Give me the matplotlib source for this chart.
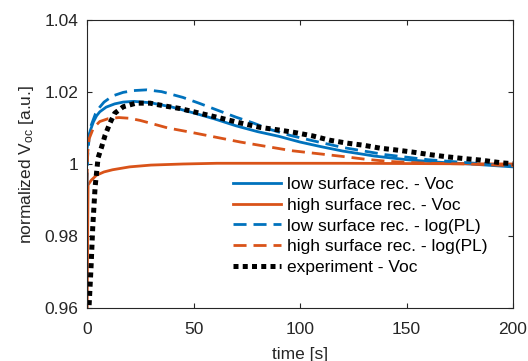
import numpy as np
import matplotlib
matplotlib.use("Agg")
import matplotlib.pyplot as plt
from matplotlib.ticker import FuncFormatter

plt.rcParams["font.family"] = ["Liberation Sans", "DejaVu Sans"]
plt.rcParams["mathtext.fontset"] = "custom"
plt.rcParams["mathtext.rm"] = "Liberation Sans"
plt.rcParams["mathtext.it"] = "Liberation Sans:italic"

# low surface recombination - Voc (simulation)
t_low_voc = [0, 0.5, 1.5, 3, 4.5, 6, 9, 13, 17, 22, 30, 40, 50, 60, 70, 80, 90, 100, 110, 120, 135, 150, 165, 180, 200]
v_low_voc = [1.004, 1.0068, 1.0092, 1.0117, 1.0134, 1.0145, 1.0158, 1.0167, 1.0172, 1.0174, 1.0170, 1.0158,
             1.0142, 1.0125, 1.0106, 1.0090, 1.0077, 1.0061, 1.0048, 1.0036, 1.0022, 1.0012, 1.0005, 1.0, 0.9992]

# high surface recombination - Voc (simulation)
t_high_voc = [0, 0.5, 2, 4.5, 8, 12, 20, 30, 45, 61, 80, 120, 160, 200]
v_high_voc = [0.955, 0.9942, 0.9955, 0.9969, 0.9978, 0.9984, 0.9992, 0.9997, 1.0, 1.0002, 1.0002, 1.0002, 1.0001, 1.0]

# low surface recombination - log(PL)
t_low_pl = [0, 0.3, 1, 2, 4, 6, 8, 12, 17, 22, 28, 35, 45, 53, 61, 70, 78, 86, 95, 105, 120, 140, 160, 180, 200]
v_low_pl = [0.994, 1.002, 1.0075, 1.0108, 1.014, 1.0158, 1.0172, 1.0189, 1.0199, 1.0204, 1.0206, 1.0201, 1.0185,
            1.0168, 1.0150, 1.0130, 1.0114, 1.0096, 1.0080, 1.0066, 1.0046, 1.0026, 1.0012, 1.0003, 0.9994]

# high surface recombination - log(PL)
t_high_pl = [0, 0.3, 1, 3, 6, 10, 15, 20, 25, 30, 38, 48, 60, 72, 84, 96, 108, 120, 131, 142, 160, 180, 200]
v_high_pl = [0.995, 1.003, 1.007, 1.0100, 1.0118, 1.0126, 1.0129, 1.0127, 1.0121, 1.0113, 1.0100, 1.0089, 1.0075,
             1.0061, 1.0049, 1.0037, 1.0029, 1.0021, 1.0013, 1.0007, 1.0002, 1.0, 0.9995]

# experiment - Voc
t_exp = [1, 1.9, 2.7, 3.8, 5.2, 6.9, 8.5, 10.8, 13, 17, 23, 29.6, 35.7, 43.7, 53, 62.4, 72, 81, 90.6, 97, 106,
         114, 122, 130, 137.6, 145, 153, 161, 169, 177, 184.5, 195, 200]
v_exp = [0.9608, 0.9714, 0.9825, 0.9936, 1.0017, 1.0048, 1.008, 1.0114, 1.0141, 1.0159, 1.0169, 1.0169, 1.0162,
         1.0154, 1.0141, 1.0128, 1.0114, 1.0102, 1.0094, 1.0088, 1.0078, 1.0066, 1.0058, 1.0052, 1.0044, 1.0039,
         1.0033, 1.0026, 1.002, 1.0015, 1.0011, 1.0003, 1.0001]

blue = "#0072BD"
orange = "#D95319"
grey = "#262626"

fig = plt.figure(figsize=(5.28, 3.61), dpi=100)
ax = fig.add_axes([87 / 528, 53 / 361, 426 / 528, 288 / 361])

ax.plot(t_low_voc, v_low_voc, color=blue, lw=2, label="low surface rec. - Voc")
ax.plot(t_high_voc, v_high_voc, color=orange, lw=2, label="high surface rec. - Voc")
ax.plot(t_low_pl, v_low_pl, color=blue, lw=2, ls=(0, (4.7, 2.5)), label="low surface rec. - log(PL)")
ax.plot(t_high_pl, v_high_pl, color=orange, lw=2, ls=(0, (4.7, 2.5)), label="high surface rec. - log(PL)")
ax.plot(t_exp, v_exp, color="black", lw=3.6, ls=(0, (1, 0.85)), label="experiment - Voc")

ax.set_xlim(0, 200)
ax.set_ylim(0.96, 1.04)
ax.set_xticks([0, 50, 100, 150, 200])
ax.set_yticks([0.96, 0.98, 1.0, 1.02, 1.04])
ax.yaxis.set_major_formatter(FuncFormatter(lambda v, p: "%g" % round(v, 2)))

ax.tick_params(direction="in", top=True, right=True, length=3.5, width=0.8,
               color=grey, labelcolor=grey, labelsize=12.5)
ax.tick_params(axis="x", pad=10)
ax.tick_params(axis="y", pad=6)
for s in ax.spines.values():
    s.set_color(grey)
    s.set_linewidth(0.8)

ax.set_xlabel("time [s]", fontsize=12.5, color=grey, labelpad=7)
ax.set_ylabel("normalized V$_{\\mathregular{oc}}$ [a.u.]", fontsize=12.5, color=grey, labelpad=6)

leg = ax.legend(loc="upper left", bbox_to_anchor=(0.342, 0.455), frameon=False, fontsize=12.5,
                handlelength=2.8, handletextpad=0.3, labelspacing=0.32, borderpad=0, borderaxespad=0)
for txt in leg.get_texts():
    txt.set_color("black")

fig.savefig("out.png", dpi=100)
